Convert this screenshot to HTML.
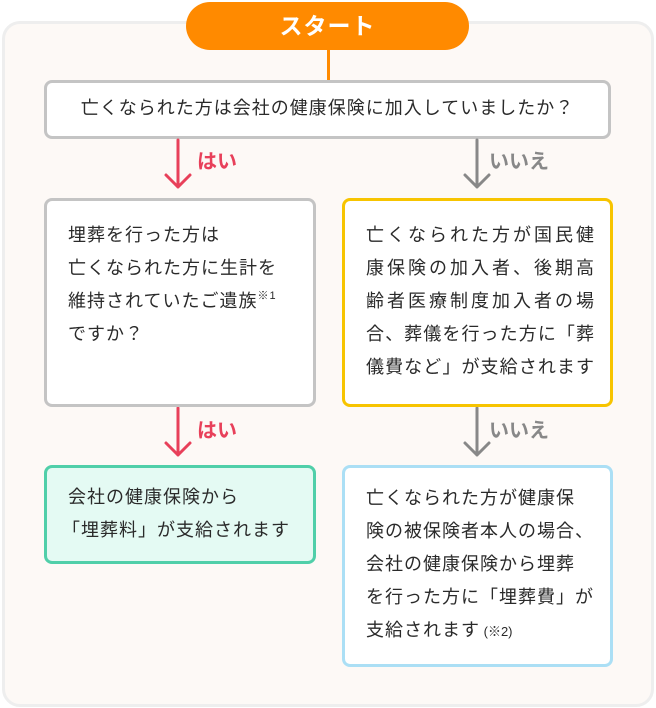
<!DOCTYPE html>
<html><head><meta charset="utf-8"><style>
body{margin:0;width:656px;height:708px;background:#fff;position:relative;overflow:hidden;font-family:"Liberation Sans","Noto Sans CJK JP",sans-serif;color:#2a2a2a;}
.a{position:absolute;box-sizing:border-box;}
.panel{left:2px;top:21px;width:652px;height:686px;background:#fdf9f6;border:3px solid #eeeeee;border-radius:18px;}
.pill{left:186px;top:2px;width:283px;height:48px;background:#ff8a00;border-radius:24px;color:#fff;font-weight:bold;font-size:23px;text-align:center;line-height:48px;letter-spacing:1px;}
.box{border:3px solid #c4c4c4;border-radius:8px;background:#fff;}
.t{position:absolute;font-size:18px;letter-spacing:1px;line-height:33px;white-space:nowrap;}
.j div{text-align:justify;text-align-last:justify;letter-spacing:0;}
.lbl{position:absolute;font-size:20px;font-weight:bold;}
</style></head><body>
<div class="a panel"></div>
<div class="a" style="left:327px;top:48px;width:3px;height:34px;background:#ff8a00"></div>
<div class="a pill">スタート</div>

<div class="a box" style="left:44px;top:80px;width:567px;height:59px;"></div>
<div class="t" style="left:44px;width:567px;top:92px;text-align:center;">亡くなられた方は会社の健康保険に加入していましたか？</div>

<svg class="a" style="left:0;top:0" width="656" height="708">
<g fill="none" stroke-width="3" stroke-linecap="round" stroke-linejoin="round">
<path d="M178 140V187M166 175L178 187L190 175" stroke="#e8405a"/>
<path d="M178 408V455M166 443L178 455L190 443" stroke="#e8405a"/>
<path d="M477 140V187M465 175L477 187L489 175" stroke="#888"/>
<path d="M477 408V455M465 443L477 455L489 443" stroke="#888"/>
</g></svg>
<div class="lbl" style="left:197px;top:145px;color:#e8405a">はい</div>
<div class="lbl" style="left:197px;top:414px;color:#e8405a">はい</div>
<div class="lbl" style="left:489px;top:145px;color:#888">いいえ</div>
<div class="lbl" style="left:489px;top:414px;color:#888">いいえ</div>

<div class="a box" style="left:44px;top:198px;width:272px;height:209px;"></div>
<div class="t" style="left:68px;top:219px;">埋葬を行った方は<br>亡くなられた方に生計を<br>維持されていたご遺族<sup style="font-size:11px;vertical-align:8px;line-height:0">※1</sup><br>ですか？</div>

<div class="a box" style="left:342px;top:198px;width:271px;height:209px;border-color:#f7c400"></div>
<div class="t j" style="left:366px;width:228px;top:219px;"><div>亡くなられた方が国民健</div><div>康保険の加入者、後期高</div><div>齢者医療制度加入者の場</div><div>合、葬儀を行った方に「葬</div><div>儀費など」が支給されます</div></div>

<div class="a box" style="left:44px;top:465px;width:272px;height:99px;background:#e4faf3;border-color:#50cfa9"></div>
<div class="t" style="left:62px;top:481px;">&nbsp;会社の健康保険から<br>「埋葬料」が支給されます</div>

<div class="a box" style="left:342px;top:465px;width:271px;height:202px;border-color:#abdff5"></div>
<div class="t" style="left:366px;top:482px;">亡くなられた方が健康保<br>険の被保険者本人の場合、<br>会社の健康保険から埋葬<br>を行った方に「埋葬費」が<br>支給されます<span style="font-size:13px;letter-spacing:0"> (※2)</span></div>
</body></html>
